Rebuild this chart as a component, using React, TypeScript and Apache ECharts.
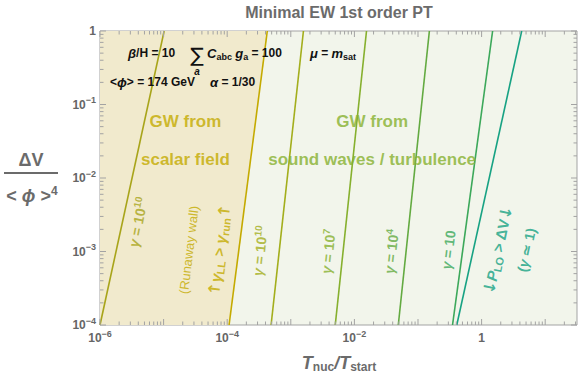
import React, { useEffect, useRef } from "react";
import * as echarts from "echarts";

// ---- axis ranges & tick labels ----
const X_MIN = 1e-6;
const X_MAX = 31.62;
const Y_MIN = 1e-4;
const Y_MAX = 1;
const xLabelExponents = [-6, -4, -2, 0];
const yLabelExponents = [-4, -3, -2, -1, 0];
const xDecades = [-6, -5, -4, -3, -2, -1, 0, 1];
const yDecades = [-4, -3, -2, -1, 0];
const minorMultipliers = [2, 3, 4, 5, 6, 7, 8, 9];

// ---- curves (T_nuc/T_start, ΔV/<φ>^4) ----
const scalarGamma1e10 = [[1e-6, 1e-4], [1.02e-5, 1]];
const runawayBoundary = [[1.07e-4, 1e-4], [4.27e-4, 1]];
const soundGamma1e10 = [[4.9e-4, 1e-4], [1.58e-3, 1]];
const gamma1e7 = [[5.0e-3, 1e-4], [1.55e-2, 1]];
const gamma1e4 = [[4.9e-2, 1e-4], [0.151, 1]];
const gamma10 = [[0.349, 1e-4], [1.49, 1]];
const gamma1 = [[0.407, 1e-4], [4.27, 1]];

// ---- annotation anchors (data coords) ----
const labelScalarGamma = [3.98e-6, 2.5e-3];
const labelRunaway1 = [2.5e-5, 1.05e-3];
const labelRunaway2 = [7.5e-5, 1.05e-3];
const labelSoundGamma = [3.3e-4, 1.02e-3];
const labelGamma1e7 = [3.9e-3, 1.0e-3];
const labelGamma1e4 = [3.83e-2, 1.0e-3];
const labelGamma10 = [0.3, 1.05e-3];
const labelPLO = [1.79, 1.05e-3];
const labelGamma1 = [5.1, 1.05e-3];
const labelScalarGW = [2.2e-5, 0.058];
const labelScalarField = [2.2e-5, 0.018];
const labelSoundGW = [1.9e-2, 0.058];
const labelSoundWaves = [1.9e-2, 0.018];

const FONT = "Liberation Sans, Arial, Helvetica, sans-serif";
const ARROW_FONT = "DejaVu Sans, Liberation Sans, sans-serif";
const C = {
  tan: "#f1eacd",
  bg: "#f2f5eb",
  l1: "#a8a41a",
  l2: "#c4aa00",
  l3: "#a3ae1c",
  l4: "#86b02e",
  l5: "#63aa40",
  l6: "#3ca85a",
  l7: "#17a283",
  frame: "#a3a3a3",
  axisText: "#666666",
};

function lineSeries(data: number[][], color: string) {
  return {
    type: "line",
    data,
    showSymbol: false,
    symbol: "none",
    silent: true,
    z: 3,
    lineStyle: { color, width: 1.6 },
  };
}

function textItem(value: number[], text: string, color: string, rotate: number, fontSize: number, fontWeight: string) {
  return {
    value,
    label: {
      show: true,
      position: "inside",
      formatter: text,
      color,
      rotate,
      fontSize,
      fontWeight,
      fontFamily: FONT,
      lineHeight: fontSize + 4,
      rich: {
        i: { fontStyle: "italic", fontSize, fontWeight, color, fontFamily: FONT, lineHeight: fontSize + 4 },
        a: { fontSize: fontSize + 1, fontWeight: "bold", color, fontFamily: ARROW_FONT, lineHeight: fontSize + 4 },
        s: { fontSize: Math.round(fontSize * 0.7), fontWeight, color, fontFamily: FONT, verticalAlign: "top", lineHeight: 9 },
        u: { fontSize: Math.round(fontSize * 0.72), fontWeight, color, fontFamily: FONT, verticalAlign: "bottom", lineHeight: 9 },
      },
    },
  };
}

function sup(e: number) {
  return e < 0 ? "\u2212" + -e : String(e);
}

function axisLabelFormatter(list: number[]) {
  return (v: number) => {
    const e = Math.log10(v);
    const r = Math.round(e);
    if (Math.abs(e - r) > 0.01 || !list.includes(r)) return "";
    return r === 0 ? "{b|1}" : `{b|10}{s|${sup(r)}}`;
  };
}

const tickRich = {
  b: { fontSize: 12, fontWeight: "bold", color: C.axisText, fontFamily: FONT, lineHeight: 18 },
  s: { fontSize: 9, fontWeight: "bold", color: C.axisText, fontFamily: FONT, verticalAlign: "top", lineHeight: 9 },
};

export default function App() {
  const ref = useRef<HTMLDivElement>(null);

  useEffect(() => {
    if (!ref.current) return;
    const chart = echarts.init(ref.current, undefined, { renderer: "svg" });

    const tickData: number[][] = [];
    xDecades.forEach((d) => {
      const base = Math.pow(10, d);
      if (base >= X_MIN && base <= X_MAX) tickData.push([base, Y_MIN, 0, 1]);
      minorMultipliers.forEach((m) => {
        const v = m * base;
        if (v > X_MIN && v < X_MAX) tickData.push([v, Y_MIN, 0, 0]);
      });
    });
    yDecades.forEach((d) => {
      const base = Math.pow(10, d);
      if (base >= Y_MIN && base <= Y_MAX) tickData.push([X_MIN, base, 1, 1]);
      minorMultipliers.forEach((m) => {
        const v = m * base;
        if (v > Y_MIN && v < Y_MAX) tickData.push([X_MIN, v, 1, 0]);
      });
    });

    const region = [
      [X_MIN, Y_MIN],
      runawayBoundary[0],
      runawayBoundary[1],
      [X_MIN, Y_MAX],
    ];

    const paramRich = {
      i: { fontStyle: "italic", fontWeight: "bold", fontSize: 13, fontFamily: FONT, fill: "#111", lineHeight: 16 },
      u: { fontWeight: "bold", fontSize: 9, fontFamily: FONT, fill: "#111", verticalAlign: "bottom", lineHeight: 9 },
    };

    const option: any = {
      animation: false,
      backgroundColor: "#ffffff",
      grid: {
        left: 100,
        top: 31,
        right: 4,
        bottom: 50,
        show: true,
        backgroundColor: C.bg,
        borderColor: C.frame,
        borderWidth: 1,
      },
      xAxis: {
        type: "log",
        logBase: 10,
        min: X_MIN,
        max: X_MAX,
        axisLine: { show: false },
        axisTick: { show: false },
        splitLine: { show: false },
        axisLabel: {
          margin: 4,
          formatter: axisLabelFormatter(xLabelExponents),
          rich: tickRich,
        },
      },
      yAxis: {
        type: "log",
        logBase: 10,
        min: Y_MIN,
        max: Y_MAX,
        axisLine: { show: false },
        axisTick: { show: false },
        splitLine: { show: false },
        axisLabel: {
          margin: 4,
          formatter: axisLabelFormatter(yLabelExponents),
          rich: tickRich,
        },
      },
      series: [
        {
          type: "custom",
          silent: true,
          z: 1,
          data: [[X_MIN, Y_MIN]],
          renderItem: (params: any, api: any) => {
            const pts = region.map((p) => api.coord(p));
            return {
              type: "polygon",
              shape: { points: pts },
              style: { fill: C.tan, stroke: "none" },
            };
          },
        },
        lineSeries(scalarGamma1e10, C.l1),
        lineSeries(runawayBoundary, C.l2),
        lineSeries(soundGamma1e10, C.l3),
        lineSeries(gamma1e7, C.l4),
        lineSeries(gamma1e4, C.l5),
        lineSeries(gamma10, C.l6),
        lineSeries(gamma1, C.l7),
        {
          type: "custom",
          silent: true,
          z: 5,
          data: tickData,
          renderItem: (params: any, api: any) => {
            const cs = params.coordSys;
            const p = api.coord([api.value(0), api.value(1)]);
            const kind = api.value(2);
            const major = api.value(3);
            const len = major ? 6 : 3.5;
            const style = { stroke: C.frame, lineWidth: 1, fill: "none" };
            if (kind === 0) {
              const x = p[0];
              const yb = cs.y + cs.height;
              return {
                type: "group",
                children: [
                  { type: "line", shape: { x1: x, y1: yb, x2: x, y2: yb - len }, style },
                  { type: "line", shape: { x1: x, y1: cs.y, x2: x, y2: cs.y + len }, style },
                ],
              };
            }
            const y = p[1];
            const xr = cs.x + cs.width;
            return {
              type: "group",
              children: [
                { type: "line", shape: { x1: cs.x, y1: y, x2: cs.x + len, y2: y }, style },
                { type: "line", shape: { x1: xr, y1: y, x2: xr - len, y2: y }, style },
              ],
            };
          },
        },
        {
          type: "scatter",
          silent: true,
          z: 6,
          symbolSize: 1,
          itemStyle: { color: "rgba(0,0,0,0)" },
          emphasis: { disabled: true },
          data: [
            textItem(labelScalarGamma, "{i|γ} = 10{s|10}", C.l1, 79, 14, "bold"),
            textItem(labelRunaway1, "(Runaway wall)", C.l2, 83, 13, "normal"),
            textItem(labelRunaway2, "{a|↑}{i|γ}{u|LL} > {i|γ}{u|run}{a|↑}", C.l2, 83, 15, "bold"),
            textItem(labelSoundGamma, "{i|γ} = 10{s|10}", C.l3, 84, 14, "bold"),
            textItem(labelGamma1e7, "{i|γ} = 10{s|7}", C.l4, 84, 14, "bold"),
            textItem(labelGamma1e4, "{i|γ} = 10{s|4}", C.l5, 84, 14, "bold"),
            textItem(labelGamma10, "{i|γ} = 10", C.l6, 83, 14, "bold"),
            textItem(labelPLO, "{a|↓}{i|P}{u|LO} > ΔV{a|↓}", C.l7, 78, 15, "bold"),
            textItem(labelGamma1, "({i|γ} ≃ 1)", C.l7, 78, 14, "bold"),
            textItem(labelScalarGW, "GW from", C.l2, 0, 17, "bold"),
            textItem(labelScalarField, "scalar field", C.l2, 0, 17, "bold"),
            textItem(labelSoundGW, "GW from", C.l4, 0, 17, "bold"),
            textItem(labelSoundWaves, "sound waves / turbulence", C.l4, 0, 17, "bold"),
          ],
        },
      ],
      graphic: [
        {
          type: "text",
          z: 100,
          x: 339,
          y: 12,
          style: {
            text: "Minimal EW 1st order PT",
            fill: "#6b6b6b",
            font: `bold 16px ${FONT}`,
            align: "center",
            verticalAlign: "middle",
          },
        },
        // parameters
        {
          type: "text",
          z: 100,
          x: 128,
          y: 53,
          style: {
            text: "{i|β}/H = 10",
            fill: "#111",
            font: `bold 12px ${FONT}`,
            verticalAlign: "middle",
            rich: paramRich,
          },
        },
        {
          type: "text",
          z: 100,
          x: 197,
          y: 55,
          style: { text: "∑", fill: "#111", font: `20px ${ARROW_FONT}`, align: "center", verticalAlign: "middle" },
        },
        {
          type: "text",
          z: 100,
          x: 197,
          y: 71,
          style: { text: "a", fill: "#111", font: `italic bold 10px ${FONT}`, align: "center", verticalAlign: "middle" },
        },
        {
          type: "text",
          z: 100,
          x: 207,
          y: 53,
          style: {
            text: "{i|C}{u|abc} {i|g}{u|a} = 100",
            fill: "#111",
            font: `bold 12px ${FONT}`,
            verticalAlign: "middle",
            rich: paramRich,
          },
        },
        {
          type: "text",
          z: 100,
          x: 310,
          y: 53,
          style: {
            text: "{i|μ} = {i|m}{u|sat}",
            fill: "#111",
            font: `bold 12px ${FONT}`,
            verticalAlign: "middle",
            rich: paramRich,
          },
        },
        {
          type: "text",
          z: 100,
          x: 110,
          y: 82,
          style: {
            text: "<{i|ϕ}> = 174 GeV",
            fill: "#111",
            font: `bold 12px ${FONT}`,
            verticalAlign: "middle",
            rich: paramRich,
          },
        },
        {
          type: "text",
          z: 100,
          x: 210,
          y: 82,
          style: {
            text: "{i|α} = 1/30",
            fill: "#111",
            font: `bold 12px ${FONT}`,
            verticalAlign: "middle",
            rich: paramRich,
          },
        },
        // y axis title
        {
          type: "text",
          z: 100,
          x: 31,
          y: 160,
          style: { text: "ΔV", fill: "#6b6b6b", font: `bold 18px ${FONT}`, align: "center", verticalAlign: "middle" },
        },
        {
          type: "line",
          z: 100,
          shape: { x1: 4, y1: 173, x2: 58, y2: 173 },
          style: { stroke: "#6b6b6b", lineWidth: 2 },
        },
        {
          type: "text",
          z: 100,
          x: 32,
          y: 196,
          style: {
            text: "< {i|ϕ} >{s|4}",
            fill: "#6b6b6b",
            font: `bold 18px ${FONT}`,
            align: "center",
            verticalAlign: "middle",
            rich: {
              i: { fontStyle: "italic", fontWeight: "bold", fontSize: 18, fontFamily: FONT, fill: "#6b6b6b", lineHeight: 22 },
              s: { fontWeight: "bold", fontSize: 12, fontFamily: FONT, fill: "#6b6b6b", verticalAlign: "top", lineHeight: 10 },
            },
          },
        },
        // x axis title
        {
          type: "text",
          z: 100,
          x: 339,
          y: 363,
          style: {
            text: "{i|T}{u|nuc}{i|/T}{u|start}",
            fill: "#6b6b6b",
            font: `bold 18px ${FONT}`,
            align: "center",
            verticalAlign: "middle",
            rich: {
              i: { fontStyle: "italic", fontWeight: "bold", fontSize: 18, fontFamily: FONT, fill: "#6b6b6b", lineHeight: 20 },
              u: { fontWeight: "bold", fontSize: 12, fontFamily: FONT, fill: "#6b6b6b", verticalAlign: "bottom", lineHeight: 8 },
            },
          },
        },
      ],
    };

    chart.setOption(option);
    return () => chart.dispose();
  }, []);

  return (
    <div
      ref={ref}
      style={{ position: "absolute", left: 0, top: 0, width: 581, height: 375 }}
    />
  );
}
